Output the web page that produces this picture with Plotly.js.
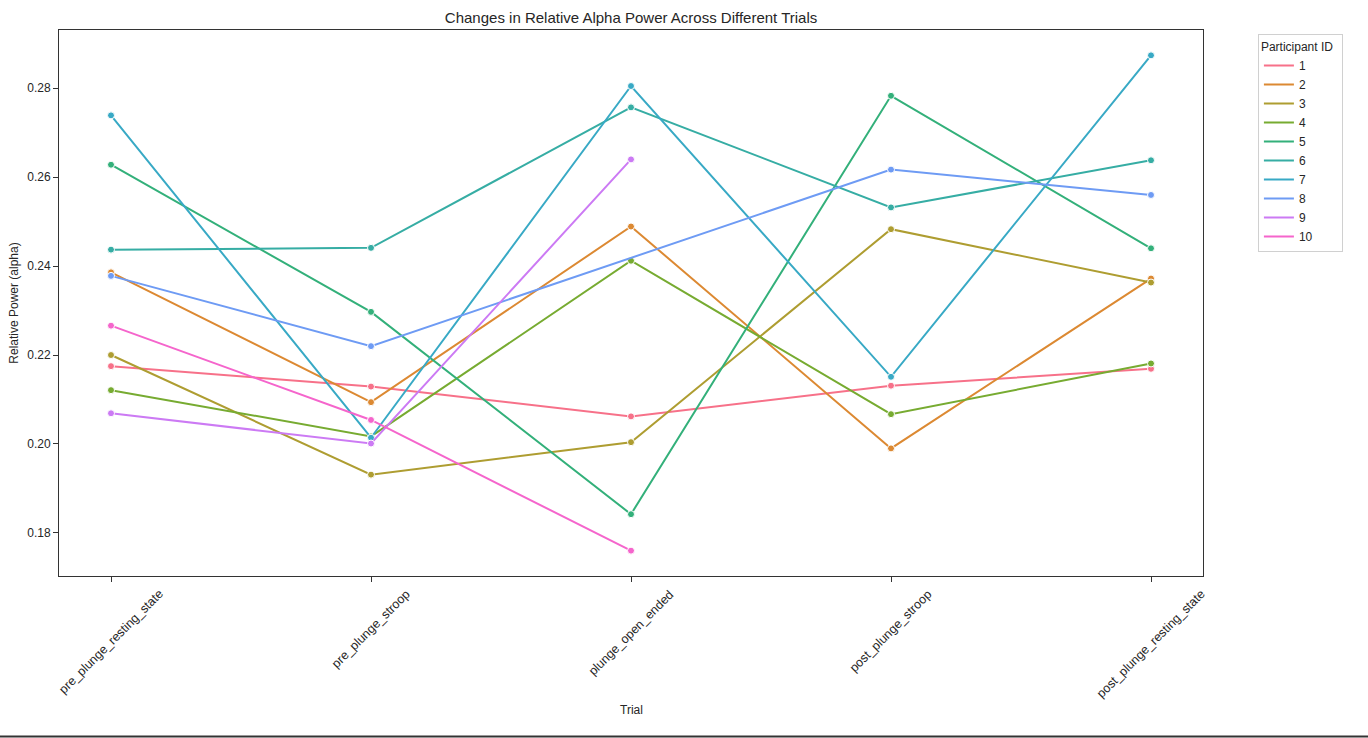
<!DOCTYPE html>
<html>
<head>
<meta charset="utf-8">
<script src="https://cdn.plot.ly/plotly-3.0.1.min.js"></script>
<style>html,body{margin:0;padding:0;background:#fff;}#chart{width:1368px;height:738px;}</style>
</head>
<body>
<div id="chart"></div>
<script>
const trials = ["pre_plunge_resting_state","pre_plunge_stroop","plunge_open_ended","post_plunge_stroop","post_plunge_resting_state"];
const participants = ["1","2","3","4","5","6","7","8","9","10"];
const colors = ["#f77189","#dc8932","#ae9d31","#77ab31","#33b07a","#36ada4","#38a9c5","#6e9bf4","#cc7af4","#f565cc"];
const p1  = [0.2175, 0.2129, 0.2062, 0.2131, 0.2169];
const p2  = [0.2386, 0.2094, 0.2489, 0.1990, 0.2372];
const p3  = [0.2200, 0.1931, 0.2004, 0.2483, 0.2363];
const p4  = [0.2121, 0.2017, 0.2412, 0.2067, 0.2181];
const p5  = [0.2628, 0.2297, 0.1842, 0.2783, 0.2440];
const p6  = [0.2437, 0.2441, 0.2757, 0.2532, 0.2638];
const p7  = [0.2739, 0.2014, 0.2805, 0.2151, 0.2874];
const p8  = [0.2378, 0.2220, null,   0.2617, 0.2560];
const p9  = [0.2069, 0.2001, 0.2640, null,   null];
const p10 = [0.2266, 0.2054, 0.1760, null,   null];
const series = [p1,p2,p3,p4,p5,p6,p7,p8,p9,p10];

const traces = [];
series.forEach((vals,i)=>{
  traces.push({
    x: trials, y: vals, type:'scatter', mode:'lines+markers',
    connectgaps: true, showlegend:false, name: participants[i],
    line:{color:colors[i], width:2},
    marker:{color:colors[i], size:7, line:{color:'#ffffff', width:1}}
  });
});
series.forEach((vals,i)=>{
  traces.push({
    x:[null], y:[null], type:'scatter', mode:'lines', name: participants[i],
    line:{color:colors[i], width:2}, showlegend:true, hoverinfo:'skip'
  });
});

const font = 'Liberation Sans, Arial, sans-serif';
const tickAnn = trials.map(t=>({
  x:t, xref:'x', y:-0.016, yref:'paper', text:t, showarrow:false,
  textangle:-45, xanchor:'center', yanchor:'top',
  font:{family:font, size:12.5, color:'#262626'}
}));

const layout = {
  width:1368, height:738,
  paper_bgcolor:'#fff', plot_bgcolor:'#fff',
  margin:{l:59, r:165, t:30, b:162},
  font:{family:font, size:12, color:'#262626'},
  title:{text:'Changes in Relative Alpha Power Across Different Trials', x:0.4613, xanchor:'center', y:0.976, yanchor:'middle', font:{family:font, size:15, color:'#262626'}},
  xaxis:{
    type:'category', range:[-0.2,4.2],
    showticklabels:false,
    showgrid:false, zeroline:false,
    showline:true, mirror:true, linecolor:'#333', linewidth:1,
    ticks:'outside', ticklen:5, tickcolor:'#333'
  },
  yaxis:{
    range:[0.1703, 0.2931], tickvals:[0.18,0.20,0.22,0.24,0.26,0.28], ticktext:['0.18','0.20','0.22','0.24','0.26','0.28'],
    showgrid:false, zeroline:false,
    showline:true, mirror:true, linecolor:'#333', linewidth:1,
    ticks:'outside', ticklen:5, tickcolor:'#333',
    tickfont:{family:font, size:12, color:'#262626'},
    title:{text:'Relative Power (alpha)', font:{family:font, size:12, color:'#262626'}, standoff:6}
  },
  legend:{
    x:1.048, xanchor:'left', y:0.992, yanchor:'top',
    bgcolor:'#fff', bordercolor:'#d0d0d0', borderwidth:1,
    font:{family:font, size:12, color:'#262626'},
    title:{text:'Participant ID  ', font:{family:font, size:12, color:'#262626'}, side:'top'},
    tracegroupgap:0, itemwidth:30
  },
  annotations: tickAnn.concat([
    {text:'Trial', xref:'paper', yref:'paper', x:0.5, y:-0.245, xanchor:'center', yanchor:'middle', showarrow:false, font:{family:font, size:12, color:'#262626'}}
  ]),
  shapes:[{type:'line', xref:'paper', yref:'paper', x0:-0.06, x1:1.15, y0:-0.294, y1:-0.294, line:{color:'#333', width:2}}]
};
Plotly.newPlot('chart', traces, layout, {displayModeBar:false, staticPlot:true});
</script>
</body>
</html>
